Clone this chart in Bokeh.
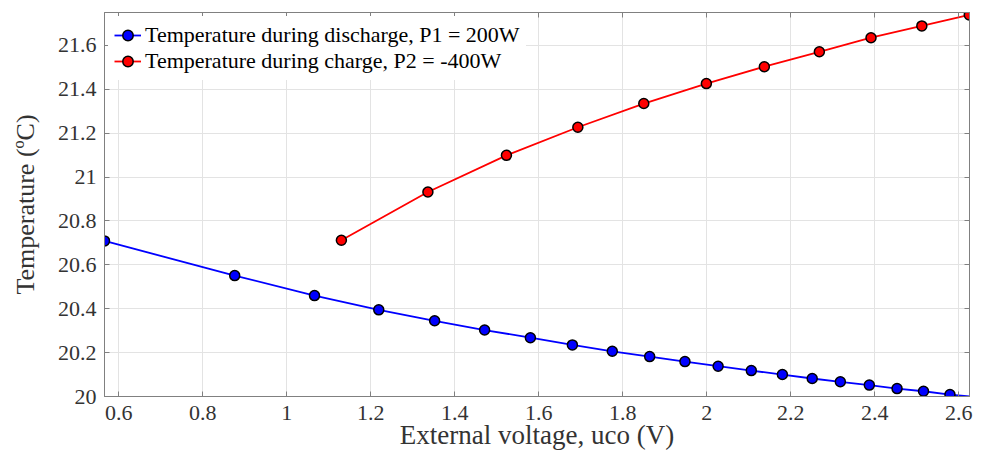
from bokeh.plotting import figure
from bokeh.models import LinearAxis, FixedTicker, Range1d, Legend, LegendItem, CustomJSTickFormatter
from bokeh.embed import file_html
from bokeh.resources import INLINE

# ---- data ----
discharge_v = [0.566, 0.876, 1.066, 1.219, 1.352, 1.471, 1.580, 1.680, 1.775, 1.864,
               1.948, 2.027, 2.106, 2.180, 2.251, 2.318, 2.387, 2.453, 2.516, 2.579]
discharge_T = [20.709, 20.551, 20.460, 20.395, 20.345, 20.303, 20.268, 20.235, 20.206, 20.182,
               20.159, 20.138, 20.118, 20.100, 20.082, 20.067, 20.052, 20.036, 20.024, 20.009]
discharge_line_v = discharge_v + [2.6255]
discharge_line_T = discharge_T + [20.0]

charge_v = [1.130, 1.336, 1.523, 1.693, 1.850, 1.999, 2.137, 2.268, 2.391, 2.512, 2.625]
charge_T = [20.712, 20.932, 21.099, 21.227, 21.335, 21.426, 21.503, 21.571, 21.635, 21.689, 21.739]

x_ticks = [0.6, 0.8, 1.0, 1.2, 1.4, 1.6, 1.8, 2.0, 2.2, 2.4, 2.6]
x_tick_labels = ["0.6", "0.8", "1", "1.2", "1.4", "1.6", "1.8", "2", "2.2", "2.4", "2.6"]
y_ticks = [20.0, 20.2, 20.4, 20.6, 20.8, 21.0, 21.2, 21.4, 21.6]
y_tick_labels = ["20", "20.2", "20.4", "20.6", "20.8", "21", "21.2", "21.4", "21.6"]

series_labels = ["Temperature during discharge, P1 = 200W",
                 "Temperature during charge, P2 = -400W"]
x_label = "External voltage, uco (V)"
y_label = "Temperature (\u00baC)"

FONT = "Liberation Serif"
AX_COLOR = "#808080"
TXT_COLOR = "#333333"

p = figure(width=981, height=461, output_backend="svg", toolbar_location=None,
           x_range=Range1d(0.566, 2.6255), y_range=Range1d(20.0, 21.75),
           min_border_left=104, min_border_right=12, min_border_top=12, min_border_bottom=65)
p.background_fill_color = "white"
p.border_fill_color = "white"
p.outline_line_color = AX_COLOR
p.outline_line_width = 1

p.xaxis.ticker = FixedTicker(ticks=x_ticks)
p.yaxis.ticker = FixedTicker(ticks=y_ticks)
p.xaxis.major_label_overrides = {t: s for t, s in zip(x_ticks, x_tick_labels)}
p.yaxis.major_label_overrides = {t: s for t, s in zip(y_ticks, y_tick_labels)}

for ax in (p.xaxis[0], p.yaxis[0]):
    ax.axis_line_color = AX_COLOR
    ax.major_tick_line_color = AX_COLOR
    ax.major_tick_in = 5
    ax.major_tick_out = 0
    ax.minor_tick_line_color = None
    ax.major_label_text_font = FONT
    ax.major_label_text_font_size = "22px"
    ax.major_label_text_color = TXT_COLOR
    ax.axis_label_text_font = FONT
    ax.axis_label_text_font_style = "normal"
    ax.axis_label_text_color = TXT_COLOR

p.xaxis.axis_label = x_label
p.yaxis.axis_label = y_label
p.xaxis.axis_label_text_font_size = "27px"
p.yaxis.axis_label_text_font_size = "26px"
p.xaxis.major_label_standoff = 9
p.yaxis.major_label_standoff = 8
p.xaxis.axis_label_standoff = -3
p.yaxis.axis_label_standoff = 15

# box axes (top/right) with inward ticks and no labels
top = LinearAxis(ticker=FixedTicker(ticks=x_ticks))
right = LinearAxis(ticker=FixedTicker(ticks=y_ticks))
for ax in (top, right):
    ax.axis_line_color = AX_COLOR
    ax.major_tick_line_color = AX_COLOR
    ax.major_tick_in = 5
    ax.major_tick_out = 0
    ax.minor_tick_line_color = None
    ax.formatter = CustomJSTickFormatter(code="return ''")
    ax.major_label_text_font_size = "1px"
    ax.major_label_standoff = 0
p.add_layout(top, "above")
p.add_layout(right, "right")

p.xgrid.ticker = FixedTicker(ticks=x_ticks)
p.ygrid.ticker = FixedTicker(ticks=y_ticks)
p.xgrid.grid_line_color = "#e3e3e3"
p.ygrid.grid_line_color = "#e3e3e3"

l1 = p.line(discharge_line_v, discharge_line_T, line_color="#0000ff", line_width=1.8)
s1 = p.scatter(discharge_v, discharge_T, size=10, fill_color="#0000ff",
               line_color="black", line_width=1.5)
l2 = p.line(charge_v, charge_T, line_color="#ff0000", line_width=1.8)
s2 = p.scatter(charge_v, charge_T, size=10, fill_color="#ff0000",
               line_color="black", line_width=1.5)

legend = Legend(items=[LegendItem(label=series_labels[0], renderers=[l1, s1]),
                       LegendItem(label=series_labels[1], renderers=[l2, s2])],
                location="top_left")
legend.margin = 4
legend.padding = 6
legend.spacing = 0
legend.glyph_width = 27
legend.glyph_height = 26
legend.label_height = 26
legend.label_standoff = 4
legend.label_text_font = FONT
legend.label_text_font_size = "22px"
legend.label_text_color = "#000000"
legend.border_line_alpha = 0
legend.background_fill_color = "white"
legend.background_fill_alpha = 1.0
p.add_layout(legend)

open("out.html", "w").write(file_html(p, INLINE))
